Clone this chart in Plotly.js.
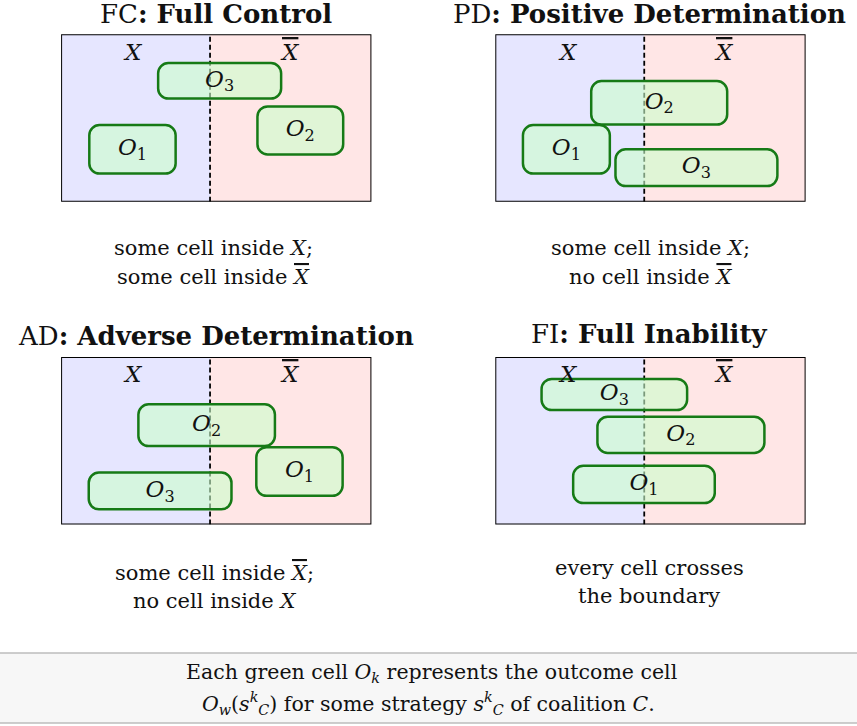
<!DOCTYPE html>
<html><head><meta charset="utf-8">
<script src="https://cdn.plot.ly/plotly-3.0.1.min.js"></script>
<style>html,body{margin:0;padding:0;background:#fff;}#chart{width:857px;height:726px;}</style>
</head><body><div id="chart"></div>
<script>
// ---------- data ----------
const panelCodes = ['FC', 'PD', 'AD', 'FI'];
const panelNames = ['Full Control', 'Positive Determination', 'Adverse Determination', 'Full Inability'];
const XBAR = '<i><span style="text-decoration:overline">X</span></i>';
const captionLine1 = ['some cell inside <i>X</i>;', 'some cell inside <i>X</i>;', 'some cell inside ' + XBAR + ';', 'every cell crosses'];
const captionLine2 = ['some cell inside ' + XBAR, 'no cell inside ' + XBAR, 'no cell inside <i>X</i>', 'the boundary'];
const cellIndex = [1, 2, 3];
// universe (units) and boundary between X and its complement
const universeWidth = 5.5;
const universeHeight = 2.97;
const boundaryX = 2.64;
// outcome cells per panel, order O1, O2, O3
const fcX0 = [0.50, 3.48, 1.72], fcX1 = [2.03, 5.00, 3.90], fcY0 = [0.50, 0.84, 1.83], fcY1 = [1.36, 1.69, 2.46];
const pdX0 = [0.49, 1.70, 2.13], pdX1 = [2.03, 4.11, 5.00], pdY0 = [0.50, 1.37, 0.28], pdY1 = [1.36, 2.14, 0.93];
const adX0 = [3.46, 1.37, 0.49], adX1 = [4.99, 3.79, 3.02], adY0 = [0.51, 1.39, 0.27], adY1 = [1.37, 2.13, 0.92];
const fiX0 = [1.38, 1.81, 0.82], fiX1 = [3.89, 4.77, 3.40], fiY0 = [0.38, 1.27, 2.03], fiY1 = [1.04, 1.91, 2.58];
const bottomLine1 = 'Each green cell <i>O</i><sub><i>k</i></sub> represents the outcome cell';
const bottomLine2 = '<i>O</i><sub><i>w</i></sub>(<i>s</i><sup><i>k</i></sup><sub><i>C</i></sub>) for some strategy <i>s</i><sup><i>k</i></sup><sub><i>C</i></sub> of coalition <i>C</i>.';

// ---------- layout (pixels) ----------
const FW = 857, FH = 726;
const panelLeft = [61.1, 495.3, 61.1, 495.3];
const panelTop = [34.3, 34.3, 357.0, 357.0];
const panelW = 310.3, panelH = 167.5;
const titleX = [215.5, 649, 215.5, 649];
const titleY = [14.5, 14.5, 336, 333.5];
const capX = [213, 650, 215, 649];
const capY1 = [248, 248, 573, 567.5];
const capY2 = [277, 277, 601, 596];
const SERIF = 'DejaVu Serif';
const cellsX0 = [fcX0, pdX0, adX0, fiX0], cellsX1 = [fcX1, pdX1, adX1, fiX1];
const cellsY0 = [fcY0, pdY0, adY0, fiY0], cellsY1 = [fcY1, pdY1, adY1, fiY1];

function px(x) { return x / FW; }
function py(y) { return 1 - y / FH; }
function roundRect(x0, x1, y0, y1, r) {
  const k = r * 0.4477; // bezier inset for quarter circle
  return `M${x0 + r},${y0} L${x1 - r},${y0} C${x1 - k},${y0} ${x1},${y0 + k} ${x1},${y0 + r} ` +
    `L${x1},${y1 - r} C${x1},${y1 - k} ${x1 - k},${y1} ${x1 - r},${y1} ` +
    `L${x0 + r},${y1} C${x0 + k},${y1} ${x0},${y1 - k} ${x0},${y1 - r} ` +
    `L${x0},${y0 + r} C${x0},${y0 + k} ${x0 + k},${y0} ${x0 + r},${y0} Z`;
}

const traces = [];
const shapes = [];
const annotations = [];
const layout = {
  width: FW, height: FH, margin: { l: 0, r: 0, t: 0, b: 0 },
  paper_bgcolor: '#ffffff', plot_bgcolor: 'rgba(0,0,0,0)', showlegend: false,
  font: { family: SERIF, color: '#111' }
};

// bottom note box
shapes.push({ type: 'rect', xref: 'paper', yref: 'paper', x0: -0.01, x1: 1.01, y0: py(723), y1: py(653),
  fillcolor: '#f7f7f7', line: { color: '#bdbdbd', width: 1.5 }, layer: 'below' });

for (let p = 0; p < 4; p++) {
  const n = p + 1;
  const xa = 'x' + (n === 1 ? '' : n), ya = 'y' + (n === 1 ? '' : n);
  const xk = 'xaxis' + (n === 1 ? '' : n), yk = 'yaxis' + (n === 1 ? '' : n);
  layout[xk] = { domain: [px(panelLeft[p]), px(panelLeft[p] + panelW)], range: [0, universeWidth],
    visible: false, fixedrange: true, anchor: ya };
  layout[yk] = { domain: [py(panelTop[p] + panelH), py(panelTop[p])], range: [0, universeHeight],
    visible: false, fixedrange: true, anchor: xa };

  shapes.push({ type: 'rect', xref: xa, yref: ya, x0: 0, x1: boundaryX, y0: 0, y1: universeHeight,
    fillcolor: '#e6e6ff', line: { width: 0 }, layer: 'below' });
  shapes.push({ type: 'rect', xref: xa, yref: ya, x0: boundaryX, x1: universeWidth, y0: 0, y1: universeHeight,
    fillcolor: '#ffe6e6', line: { width: 0 }, layer: 'below' });
  shapes.push({ type: 'line', xref: xa, yref: ya, x0: boundaryX, x1: boundaryX, y0: 0, y1: universeHeight,
    line: { color: '#000', width: 1.8, dash: '5px,3px' }, layer: 'below' });

  const cx = [], cy = [], ct = [];
  for (let c = 0; c < cellIndex.length; c++) {
    const x0 = cellsX0[p][c], x1 = cellsX1[p][c], y0 = cellsY0[p][c], y1 = cellsY1[p][c];
    shapes.push({ type: 'path', xref: xa, yref: ya, path: roundRect(x0, x1, y0, y1, 0.18),
      fillcolor: 'rgba(204,255,204,0.6)', line: { color: '#167a16', width: 2.5 }, layer: 'below' });
    cx.push((x0 + x1) / 2); cy.push((y0 + y1) / 2);
    ct.push('<i>O</i><sub>' + cellIndex[c] + '</sub>');
  }
  shapes.push({ type: 'rect', xref: xa, yref: ya, x0: 0, x1: universeWidth, y0: 0, y1: universeHeight,
    fillcolor: 'rgba(0,0,0,0)', line: { color: '#000', width: 2 }, layer: 'below' });

  traces.push({ type: 'scatter', mode: 'text', x: cx, y: cy, text: ct, xaxis: xa, yaxis: ya,
    textposition: 'middle center', textfont: { family: SERIF, size: 23, color: '#111' },
    hoverinfo: 'skip', cliponaxis: false, showlegend: false });

  annotations.push({ xref: xa, yref: ya, x: 1.28, y: 2.66, text: '<i>X</i>', showarrow: false,
    font: { family: SERIF, size: 23, color: '#111' }, xanchor: 'center', yanchor: 'middle' });
  annotations.push({ xref: xa, yref: ya, x: 4.06, y: 2.66, text: XBAR, showarrow: false,
    font: { family: SERIF, size: 23, color: '#111' }, xanchor: 'center', yanchor: 'middle' });

  annotations.push({ xref: 'paper', yref: 'paper', x: px(titleX[p]), y: py(titleY[p]),
    text: panelCodes[p] + '<b>: ' + panelNames[p] + '</b>', showarrow: false,
    font: { family: SERIF, size: 26, color: '#111' }, xanchor: 'center', yanchor: 'middle' });
  annotations.push({ xref: 'paper', yref: 'paper', x: px(capX[p]), y: py(capY1[p]), text: captionLine1[p],
    showarrow: false, font: { family: SERIF, size: 21, color: '#111' }, xanchor: 'center', yanchor: 'middle' });
  annotations.push({ xref: 'paper', yref: 'paper', x: px(capX[p]), y: py(capY2[p]), text: captionLine2[p],
    showarrow: false, font: { family: SERIF, size: 21, color: '#111' }, xanchor: 'center', yanchor: 'middle' });
}

annotations.push({ xref: 'paper', yref: 'paper', x: px(431), y: py(673), text: bottomLine1, showarrow: false,
  font: { family: SERIF, size: 20.5, color: '#111' }, xanchor: 'center', yanchor: 'middle' });
annotations.push({ xref: 'paper', yref: 'paper', x: px(428), y: py(703), text: bottomLine2, showarrow: false,
  font: { family: SERIF, size: 20.5, color: '#111' }, xanchor: 'center', yanchor: 'middle' });

layout.shapes = shapes;
layout.annotations = annotations;
Plotly.newPlot('chart', traces, layout, { staticPlot: true, displayModeBar: false });
</script>
</body></html>
